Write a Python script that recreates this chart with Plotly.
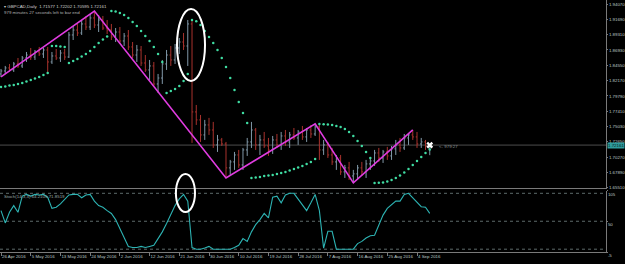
import plotly.graph_objects as go

# ---------------- data ----------------
opens = [1.8321,1.8367,1.8414,1.8383,1.8476,1.8445,1.8569,1.8615,1.8584,1.8662,
         1.8631,1.8693,1.8507,1.8600,1.8569,1.8646,1.8584,1.8926,1.9003,1.8957,
         1.9097,1.9050,1.9190,1.9081,1.9159,1.9034,1.9003,1.8895,1.8972,1.8833,
         1.8910,1.8740,1.8615,1.8693,1.8491,1.8383,1.8445,1.8165,1.8258,1.8476,
         1.8615,1.8538,1.8724,1.8817,1.8755,1.9097,1.7731,1.7607,1.7374,1.7529,
         1.7451,1.7219,1.7296,1.7234,1.6862,1.6955,1.7063,1.6908,1.7141,1.7265,
         1.7451,1.7219,1.7296,1.7203,1.7141,1.7296,1.7219,1.7358,1.7265,1.7374,
         1.7327,1.7420,1.7343,1.7451,1.7389,1.7498,1.7141,1.7219,1.7063,1.6955,
         1.7017,1.6800,1.6862,1.6737,1.6769,1.6862,1.6800,1.6924,1.6970,1.7094,
         1.7017,1.7110,1.7048,1.7157,1.7219,1.7172,1.7327,1.7374,1.7343,1.7234,
         1.7265,1.71577]
highs = [1.8398,1.8445,1.8476,1.8507,1.8569,1.8600,1.8662,1.8724,1.8693,1.8740,
         1.8724,1.8740,1.8662,1.8709,1.8693,1.8709,1.8972,1.9065,1.9097,1.9159,
         1.9221,1.9252,1.9298,1.9236,1.9221,1.9159,1.9097,1.9034,1.9050,1.8957,
         1.9003,1.8817,1.8771,1.8755,1.8615,1.8538,1.8507,1.8321,1.8538,1.8693,
         1.8755,1.8786,1.8879,1.8957,1.9159,1.9143,1.7839,1.7684,1.7607,1.7638,
         1.7576,1.7374,1.7327,1.7265,1.6986,1.7110,1.7141,1.7172,1.7327,1.7576,
         1.7482,1.7374,1.7420,1.7327,1.7358,1.7389,1.7420,1.7451,1.7420,1.7482,
         1.7451,1.7513,1.7482,1.7529,1.7545,1.7529,1.7296,1.7265,1.7172,1.7063,
         1.7063,1.6908,1.6955,1.6831,1.6908,1.6955,1.6986,1.7001,1.7141,1.7172,
         1.7141,1.7188,1.7203,1.7296,1.7327,1.7389,1.7405,1.7451,1.7420,1.7327,
         1.7296,1.72202]
lows = [1.8274,1.8321,1.8352,1.8352,1.8414,1.8414,1.8507,1.8538,1.8538,1.8600,
        1.8569,1.8321,1.8476,1.8538,1.8507,1.8538,1.8569,1.8848,1.8910,1.8926,
        1.9003,1.9003,1.9034,1.8972,1.9003,1.8941,1.8848,1.8817,1.8786,1.8755,
        1.8693,1.8569,1.8507,1.8445,1.8352,1.8227,1.8134,1.8026,1.8165,1.8383,
        1.8445,1.8476,1.8631,1.8693,1.8445,1.7250,1.7529,1.7265,1.7296,1.7374,
        1.7172,1.7110,1.7203,1.6706,1.6753,1.6831,1.6862,1.6831,1.7048,1.7172,
        1.7141,1.7063,1.7172,1.7048,1.7079,1.7172,1.7141,1.7203,1.7172,1.7296,
        1.7219,1.7296,1.7265,1.7327,1.7358,1.6986,1.7063,1.7017,1.6908,1.6831,
        1.6753,1.6706,1.6675,1.6629,1.6675,1.6737,1.6706,1.6831,1.6893,1.6955,
        1.6939,1.6986,1.6986,1.7063,1.7110,1.7141,1.7219,1.7296,1.7172,1.7172,
        1.7141,1.70595]
closes = [1.8367,1.8414,1.8383,1.8476,1.8445,1.8569,1.8615,1.8584,1.8662,1.8631,
          1.8693,1.8507,1.8600,1.8569,1.8646,1.8584,1.8926,1.9003,1.8957,1.9097,
          1.9050,1.9190,1.9081,1.9159,1.9034,1.9003,1.8895,1.8972,1.8833,1.8910,
          1.8740,1.8615,1.8693,1.8491,1.8383,1.8445,1.8165,1.8258,1.8476,1.8615,
          1.8538,1.8724,1.8817,1.8755,1.9097,1.7731,1.7607,1.7374,1.7529,1.7451,
          1.7219,1.7296,1.7234,1.6862,1.6955,1.7063,1.6908,1.7141,1.7265,1.7451,
          1.7219,1.7296,1.7203,1.7141,1.7296,1.7219,1.7358,1.7265,1.7374,1.7327,
          1.7420,1.7343,1.7451,1.7389,1.7498,1.7141,1.7219,1.7063,1.6955,1.7017,
          1.6800,1.6862,1.6737,1.6769,1.6862,1.6800,1.6924,1.6970,1.7094,1.7017,
          1.7110,1.7048,1.7157,1.7219,1.7172,1.7327,1.7374,1.7343,1.7234,1.7265,
          1.7203,1.72161]
sar = [1.8119,1.8127,1.8142,1.8150,1.8165,1.8181,1.8204,1.8227,1.8251,1.8274,
       1.8305,1.8336,1.8755,1.8755,1.8747,1.8740,1.8491,1.8522,1.8553,1.8592,
       1.8631,1.8677,1.8740,1.8802,1.8856,1.8902,1.9298,1.9290,1.9267,1.9236,
       1.9190,1.9128,1.9065,1.8988,1.8910,1.8833,1.8740,1.8631,1.8507,1.8026,
       1.8057,1.8088,1.8134,1.8212,1.8321,1.9159,1.9140,1.9081,1.8988,1.8895,
       1.8802,1.8693,1.8569,1.8429,1.8258,1.8072,1.7886,1.7715,1.7560,1.6706,
       1.6714,1.6722,1.6737,1.6745,1.6753,1.6769,1.6784,1.6800,1.6823,1.6846,
       1.6869,1.6893,1.6924,1.6955,1.7001,1.7545,1.7540,1.7537,1.7529,1.7513,
       1.7498,1.7467,1.7420,1.7358,1.7281,1.7203,1.7110,1.7017,1.6629,1.6632,
       1.6637,1.6652,1.6675,1.6706,1.6745,1.6792,1.6846,1.6908,1.6970,1.7032,
       1.7094,1.7149]
stoch = [69,47,66,78,66,95,98,95,98,97,98,93,73,75,81,90,97,98,98,92,
         97,98,86,78,75,69,64,53,36,19,5,3,3,5,3,5,7,19,31,46,
         63,78,90,98,86,3,0,0,2,5,0,0,0,0,0,3,7,19,14,31,
         44,53,64,56,93,95,83,97,100,100,90,78,69,83,98,69,2,32,32,0,
         0,0,0,0,10,14,20,24,25,44,61,73,80,86,86,98,100,92,85,76,
         75,64]
zz_idx = [0, 22, 53, 74, 83, 97]
zz_price = [1.8274, 1.9298, 1.6706, 1.7545, 1.6629, 1.7451]

date_labels = ["26 Apr 2016", "5 May 2016", "13 May 2016", "24 May 2016", "2 Jun 2016",
               "12 Jun 2016", "21 Jun 2016", "30 Jun 2016", "10 Jul 2016", "19 Jul 2016",
               "28 Jul 2016", "7 Aug 2016", "16 Aug 2016", "25 Aug 2016", "4 Sep 2016"]
date_ticks = [0, 7, 14, 21, 28, 35, 42, 49, 56, 63, 70, 77, 84, 91, 98]
price_ticks = [1.94070, 1.91690, 1.89310, 1.86930, 1.84550, 1.82170, 1.79790,
               1.77410, 1.75030, 1.72650, 1.70270, 1.67890, 1.65510]
price_labels = ["1.94070", "1.91690", "1.89310", "1.86930", "1.84550", "1.82170", "1.79790",
                "1.77410", "1.75030", "1.72650", "1.70270", "1.67890", "1.65510"]
osc_ticks = [105, 50, -5]
osc_labels = ["105", "50", "-5"]
osc_levels = [100, 50, 0]

idx = list(range(len(closes)))
last = closes[-1]

FONT = "Liberation Sans"
TXT = "#c8c8c8"
GRAY = "#7a7a7a"
FS = 4.4

fig = go.Figure()
fig.add_trace(go.Ohlc(x=idx, open=opens, high=highs, low=lows, close=closes,
                      increasing=dict(line=dict(color="#8198a8", width=1)),
                      decreasing=dict(line=dict(color="#a8322d", width=1)),
                      tickwidth=0.3, xaxis="x", yaxis="y", hoverinfo="skip"))
fig.add_trace(go.Scatter(x=zz_idx, y=zz_price, mode="lines",
                         line=dict(color="#e03ce0", width=1.6), xaxis="x", yaxis="y"))
fig.add_trace(go.Scatter(x=idx, y=sar, mode="markers",
                         marker=dict(color="#3fdca2", size=2.5), xaxis="x", yaxis="y"))
fig.add_trace(go.Scatter(x=[idx[-1]], y=[last], mode="markers",
                         marker=dict(symbol="x", color="white", size=6,
                                     line=dict(width=0)), xaxis="x", yaxis="y"))
fig.add_trace(go.Scatter(x=idx, y=stoch, mode="lines",
                         line=dict(color="#2db3b3", width=1.1), xaxis="x2", yaxis="y2"))

xr = [-0.236, 142.52]
fig.update_layout(
    width=625, height=264, margin=dict(l=0, r=19, t=0, b=12, autoexpand=False),
    paper_bgcolor="black", plot_bgcolor="black", showlegend=False,
    hovermode=False, font=dict(family=FONT, size=FS, color=TXT),
    xaxis=dict(domain=[0, 1], range=xr, anchor="y", showticklabels=False,
               showgrid=False, zeroline=False, showline=True, linecolor=GRAY,
               linewidth=1, mirror=True, rangeslider=dict(visible=False), ticks="",
               automargin=False),
    yaxis=dict(domain=[0.254, 1], range=[1.6550, 1.94691], side="right",
               tickvals=price_ticks, ticktext=price_labels, showgrid=False,
               zeroline=False, showline=True, linecolor=GRAY, linewidth=1,
               ticks="outside", ticklen=1, tickcolor=GRAY, automargin=False,
               tickfont=dict(size=FS, color="#bcc8c8")),
    xaxis2=dict(domain=[0, 1], range=xr, anchor="y2", tickvals=date_ticks,
                ticktext=date_labels, ticklabelposition="outside right",
                tickangle=0, automargin=False,
                showgrid=False, zeroline=False, showline=True, linecolor=GRAY,
                linewidth=1, ticks="outside", ticklen=3, tickcolor=GRAY,
                tickfont=dict(size=FS, color="#bcc8c8")),
    yaxis2=dict(domain=[0, 0.244], range=[-5, 105], side="right",
                tickvals=osc_ticks, ticktext=osc_labels, showgrid=False,
                zeroline=False, showline=True, linecolor=GRAY, linewidth=1,
                ticks="outside", ticklen=1, tickcolor=GRAY, automargin=False,
                ticklabelposition="outside bottom",
                tickfont=dict(size=FS, color="#bcc8c8")),
)

shapes = []
for lv in osc_levels:
    shapes.append(dict(type="line", xref="paper", x0=0, x1=1, yref="y2", y0=lv, y1=lv,
                       line=dict(color="#5d6b6b", width=1, dash="dot"), layer="below"))
shapes.append(dict(type="line", xref="paper", x0=0, x1=1, yref="y", y0=last, y1=last,
                   line=dict(color="#4c4c4c", width=1), layer="below"))
shapes.append(dict(type="circle", xref="x", yref="y", x0=41.46, x1=48.06,
                   y0=1.8212, y1=1.9329, line=dict(color="white", width=2)))
shapes.append(dict(type="circle", xref="x", yref="paper", x0=41.2, x1=45.7,
                   y0=0.1587, y1=0.3095, line=dict(color="white", width=2)))
fig.update_layout(shapes=shapes)

ann = [
    dict(x=0.004, y=1.0, xref="paper", yref="paper", xanchor="left", yanchor="top",
         yshift=-2, showarrow=False, align="left",
         text="▾ GBPCAD,Daily  1.71577 1.72202 1.70595 1.72161",
         font=dict(size=FS, color="#d0d0d0")),
    dict(x=0.004, y=1.0, xref="paper", yref="paper", xanchor="left", yanchor="top",
         yshift=-8, showarrow=False, align="left",
         text="979 minutes 27 seconds left to bar end",
         font=dict(size=FS, color="#b0b0b0")),
    dict(x=0.004, y=0.244, xref="paper", yref="paper", xanchor="left", yanchor="top",
         yshift=-1, showarrow=False, text="Stoch(14,3,3) 64.2105 71.8519",
         font=dict(size=FS, color="#9aa8a8")),
    dict(x=1, y=last, xref="paper", yref="y", xanchor="left", yanchor="middle",
         xshift=1, showarrow=False, text="1.72161", bgcolor="#2f9d9d", borderpad=0,
         font=dict(size=FS, color="#061818")),
    dict(x=idx[-1], y=last, xref="x", yref="y", xanchor="left", yanchor="middle",
         xshift=7, yshift=-1, showarrow=False, text="<- 979:27",
         font=dict(size=FS, color="#8c9696")),
]
fig.update_layout(annotations=ann)

fig.write_html("out.html")
